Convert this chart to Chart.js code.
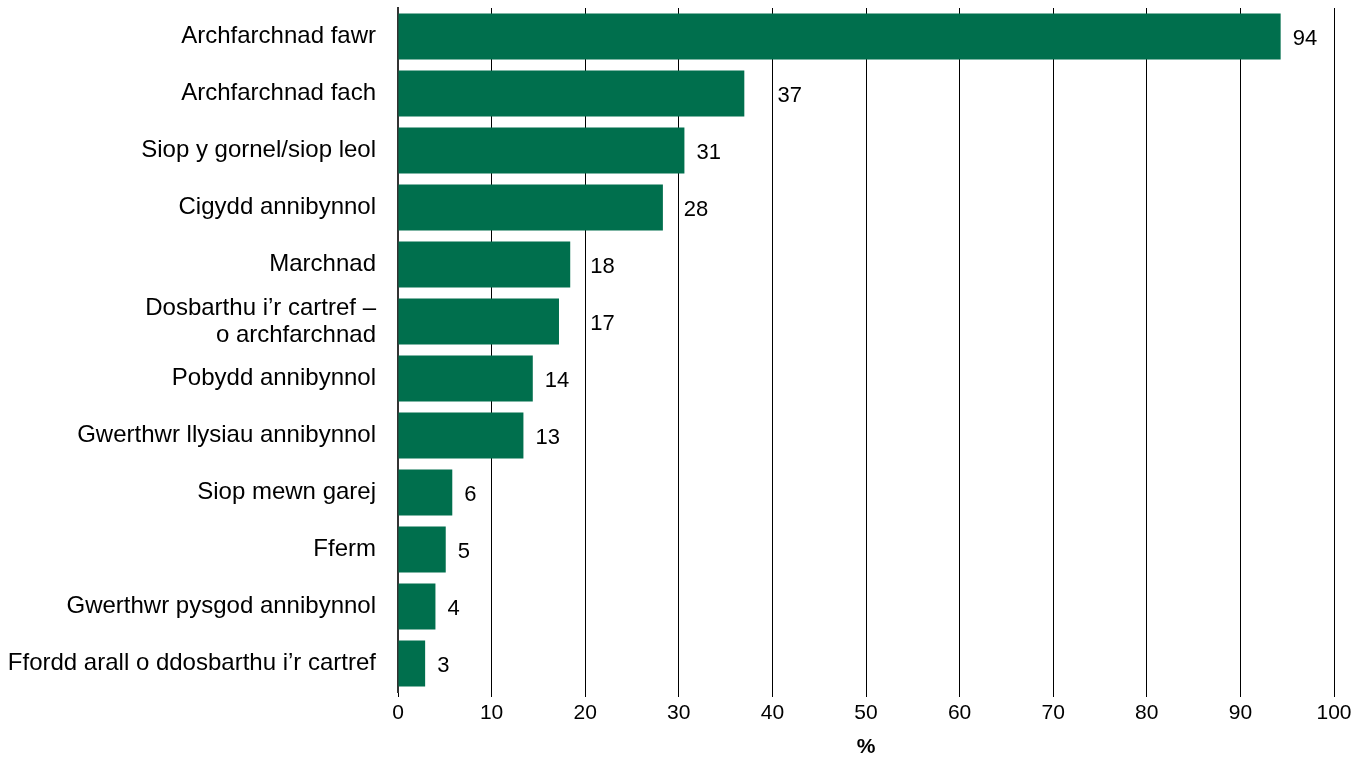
<!DOCTYPE html>
<html>
<head>
<meta charset="utf-8">
<script src="https://cdn.jsdelivr.net/npm/chart.js@4/dist/chart.umd.min.js"></script>
<style>
  html, body { margin: 0; padding: 0; background: #fff; }
  #wrap { width: 1371px; height: 758px; }
</style>
</head>
<body>
<div id="wrap"><canvas id="chart"></canvas></div>
<script>
const categories = [
  'Archfarchnad fawr',
  'Archfarchnad fach',
  'Siop y gornel/siop leol',
  'Cigydd annibynnol',
  'Marchnad',
  ['Dosbarthu i’r cartref –', 'o archfarchnad'],
  'Pobydd annibynnol',
  'Gwerthwr llysiau annibynnol',
  'Siop mewn garej',
  'Fferm',
  'Gwerthwr pysgod annibynnol',
  'Ffordd arall o ddosbarthu i’r cartref'
];
const values = [94.3, 37.0, 30.6, 28.3, 18.4, 17.2, 14.4, 13.4, 5.8, 5.1, 4.0, 2.9];
const xTicks = [0, 10, 20, 30, 40, 50, 60, 70, 80, 90, 100];

const FONT = '"Liberation Sans", Arial, sans-serif';
const GREEN = '#006f4d';

// value labels at the end of each bar, pushed past a gridline they would cross
const endLabels = {
  id: 'endLabels',
  afterDatasetsDraw(chart) {
    const ctx = chart.ctx;
    const meta = chart.getDatasetMeta(0);
    const xs = xTicks.map(v => chart.scales.x.getPixelForValue(v));
    ctx.save();
    ctx.font = '22px ' + FONT;
    ctx.fillStyle = '#000';
    ctx.textBaseline = 'middle';
    ctx.textAlign = 'left';
    meta.data.forEach((bar, i) => {
      const text = String(Math.round(values[i]));
      const w = ctx.measureText(text).width;
      let x = bar.x + 12;
      const hit = xs.find(g => g > bar.x && g < x + w + 2);
      if (hit !== undefined) x = hit + 5;
      ctx.fillText(text, x, bar.y + 2);
    });
    ctx.restore();
  }
};

new Chart(document.getElementById('chart'), {
  type: 'bar',
  data: {
    labels: categories,
    datasets: [{
      data: values,
      backgroundColor: GREEN,
      borderWidth: 0,
      barPercentage: 0.81,
      categoryPercentage: 1
    }]
  },
  options: {
    indexAxis: 'y',
    responsive: true,
    maintainAspectRatio: false,
    animation: false,
    layout: { padding: { top: 8, right: 37, bottom: 0, left: 0 } },
    plugins: {
      legend: { display: false },
      tooltip: { enabled: false }
    },
    scales: {
      x: {
        min: 0,
        max: 100,
        afterBuildTicks(scale) {
          scale.ticks = xTicks.map(v => ({ value: v }));
        },
        afterFit(scale) { scale.height = 66; },
        border: { display: false },
        grid: {
          color: '#000',
          lineWidth: 1,
          tickLength: 5,
          drawTicks: true
        },
        ticks: {
          color: '#000',
          font: { family: FONT, size: 21 },
          padding: 4,
          maxRotation: 0
        },
        title: {
          display: true,
          text: '%',
          color: '#000',
          font: { family: FONT, size: 21, weight: 'bold', lineHeight: 1 },
          padding: { top: 2, bottom: 0 }
        }
      },
      y: {
        afterFit(scale) {
          scale.width = 398;
          scale.paddingTop = 0;
          scale.paddingBottom = 0;
        },
        border: { display: true, color: '#333', width: 2 },
        grid: { display: false, drawTicks: false },
        ticks: {
          autoSkip: false,
          color: '#000',
          font: { family: FONT, size: 24, lineHeight: 1.12 },
          padding: 22
        }
      }
    }
  },
  plugins: [endLabels]
});
</script>
</body>
</html>
